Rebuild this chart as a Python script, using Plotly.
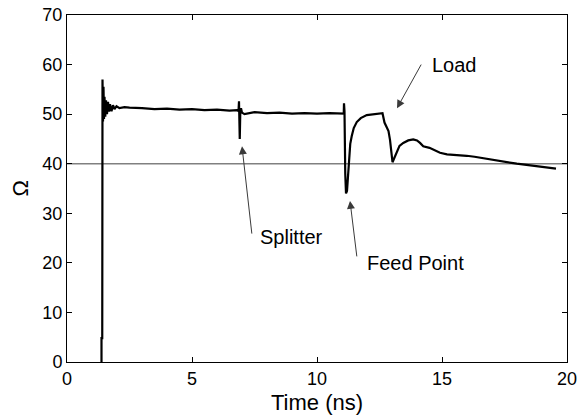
import plotly.graph_objects as go

# Measured impedance trace (Time in ns, impedance in Ohm)
time_ns = [1.38, 1.38, 1.41, 1.42, 1.44, 1.46, 1.48, 1.50, 1.53, 1.56, 1.60, 1.64, 1.68, 1.72,
           1.78, 1.84, 1.90, 1.98, 2.10, 2.30, 2.5, 3.0, 3.5, 4.0, 4.5, 5.0, 5.5, 6.0, 6.5,
           6.80, 6.86, 6.88, 6.90, 6.91, 6.93, 6.96, 7.00, 7.10, 7.5, 8.0, 8.5, 9.0, 9.5,
           10.0, 10.5, 11.0, 11.07, 11.08, 11.10, 11.13, 11.16, 11.20, 11.24, 11.28, 11.33,
           11.39, 11.47, 11.59, 11.75, 11.99, 12.30, 12.59, 12.62, 12.70, 12.80, 12.86, 12.92,
           12.97, 13.02, 13.08, 13.19, 13.30, 13.45, 13.65, 13.85, 14.00, 14.12, 14.25, 14.50,
           14.75, 14.92, 15.20, 15.45, 15.70, 15.99, 16.30, 16.65, 17.00, 17.32, 17.65, 17.99,
           18.30, 18.65, 19.00, 19.30, 19.56]
impedance = [0.0, 4.8, 4.8, 57.0, 48.5, 55.5, 49.0, 53.5, 49.5, 52.8, 50.0, 52.5, 50.5, 52.0,
             50.6, 51.8, 51.0, 51.6, 51.2, 51.4, 51.3, 51.2, 51.0, 51.1, 50.9, 51.0, 50.8, 50.9, 50.7,
             50.8, 50.6, 52.6, 49.5, 45.0, 50.0, 51.2, 50.3, 50.0, 50.4, 50.2, 50.3, 50.1, 50.2,
             50.1, 50.2, 50.1, 50.1, 52.2, 50.5, 38.0, 34.0, 34.5, 37.5, 40.5, 44.0,
             45.6, 47.2, 48.4, 49.2, 49.8, 50.0, 50.2, 50.2, 48.3, 47.4, 46.6, 44.8,
             42.5, 40.3, 41.0, 42.5, 43.6, 44.2, 44.7, 44.9, 44.7, 44.2, 43.5, 43.2,
             42.7, 42.2, 41.9, 41.8, 41.8, 41.6, 41.4, 41.1, 40.8, 40.5, 40.2, 40.0,
             39.8, 39.6, 39.3, 39.1, 39.0]

# Reference level line
ref_time = [0, 20]
ref_level = [40, 40]

x_ticks = [0, 5, 10, 15, 20]
y_ticks = [0, 10, 20, 30, 40, 50, 60, 70]

# Annotations: label, arrow tip (t, ohm), arrow tail (t, ohm), text position (t, ohm)
labels = ["Splitter", "Feed Point", "Load"]
tip_t = [7.0, 11.32, 13.2]
tip_y = [43.5, 32.5, 51.2]
tail_t = [7.4, 11.6, 14.2]
tail_y = [25.6, 21.0, 60.3]
text_t = [7.62, 11.9, 14.5]
text_y = [25.2, 20.0, 59.9]

FONT = "Liberation Sans, Arial, sans-serif"

fig = go.Figure()
fig.add_trace(go.Scatter(x=ref_time, y=ref_level, mode="lines",
                         line=dict(color="#808080", width=1.5), hoverinfo="skip"))
fig.add_trace(go.Scatter(x=time_ns, y=impedance, mode="lines",
                         line=dict(color="black", width=2.2)))

annotations = []
for lab, xt, yt, xa, ya, xx, yy in zip(labels, tip_t, tip_y, tail_t, tail_y, text_t, text_y):
    annotations.append(dict(x=xt, y=yt, ax=xa, ay=ya, xref="x", yref="y", axref="x", ayref="y",
                            text="", showarrow=True, arrowhead=2, arrowsize=1.6,
                            arrowwidth=1, arrowcolor="#3a3a3a"))
    annotations.append(dict(x=xx, y=yy, xref="x", yref="y", text=lab, showarrow=False,
                            xanchor="left", yanchor="middle",
                            font=dict(family=FONT, size=20, color="black")))

# Axis titles placed explicitly
annotations.append(dict(x=0.5, y=0, xref="paper", yref="paper", yshift=-40,
                        text="Time (ns)", showarrow=False, xanchor="center", yanchor="middle",
                        font=dict(family=FONT, size=22, color="black")))
annotations.append(dict(x=0, y=0.5, xref="paper", yref="paper", xshift=-47,
                        text="Ω", showarrow=False, textangle=-90, xanchor="center", yanchor="middle",
                        font=dict(family=FONT, size=22, color="black")))

fig.update_layout(
    width=587, height=415,
    margin=dict(l=67, r=20, t=15, b=53, autoexpand=False),
    paper_bgcolor="white", plot_bgcolor="white",
    showlegend=False,
    font=dict(family=FONT, size=18, color="black"),
    annotations=annotations,
    xaxis=dict(range=[0, 20], tickvals=x_ticks, ticks="inside", ticklen=5, tickcolor="black",
               showline=True, linecolor="black", linewidth=1, mirror="ticks",
               showgrid=False, zeroline=False, automargin=False,
               ticklabeloverflow="allow"),
    yaxis=dict(range=[0, 70], tickvals=y_ticks, ticks="inside", ticklen=5, tickcolor="black",
               showline=True, linecolor="black", linewidth=1, mirror="ticks",
               showgrid=False, zeroline=False, automargin=False,
               ticklabeloverflow="allow"),
)

# remove the default page margin so the figure sits at the window's top-left corner
fig.write_html("out.html",
               config={"displayModeBar": False},
               post_script="document.body.style.margin='0';document.body.style.overflow='hidden';")
